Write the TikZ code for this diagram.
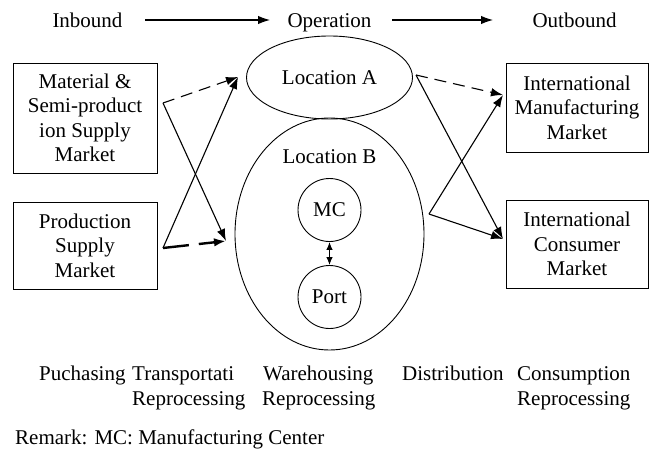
\documentclass[tikz,border=0pt]{standalone}
\usepackage{fontspec}
\setmainfont{Liberation Serif}
\usetikzlibrary{arrows.meta,shapes.geometric}
\begin{document}
\begin{tikzpicture}[x=1pt,y=-1pt,
  font=\fontsize{21}{24.5}\selectfont,
  box/.style={draw,line width=0.9pt,inner sep=0pt,align=center},
  oval/.style={draw,ellipse,line width=0.9pt,inner sep=0pt},
  circ/.style={draw,circle,line width=0.9pt,inner sep=0pt,minimum size=63pt},
  arr/.style={line width=1.1pt,-{Latex[length=12pt,width=8.5pt]}},
  dsh/.style={dash pattern=on 12pt off 7pt},
  tdsh/.style={line width=2.4pt,dash pattern=on 26pt off 10pt},
  lbl/.style={inner sep=0pt,anchor=base west},
  top/.style={inner sep=0pt,anchor=base}]
\useasboundingbox (0,0) rectangle (654,458);

% top row
\node[top] (inb) at (87.5,27) {Inbound};
\node[top] (op) at (329.5,27) {Operation};
\node[top] (outb) at (574.5,27) {Outbound};
\coordinate (t1s) at (145,20); \coordinate (t1e) at (270,20);
\coordinate (t2s) at (392,20); \coordinate (t2e) at (493,20);
\draw[arr] (t1s) -- (t1e);
\draw[arr] (t2s) -- (t2e);

% boxes
\node[box,minimum width=144pt,minimum height=110pt] (mat) at (85,118) {Material \&\\Semi-product\\ion Supply\\Market};
\node[box,minimum width=144pt,minimum height=87pt] (prod) at (85,245.5) {Production\\Supply\\Market};
\node[box,minimum width=142pt,minimum height=89pt] (imm) at (577,107.5) {International\\Manufacturing\\Market};
\node[box,minimum width=142pt,minimum height=88pt] (icm) at (577,244) {International\\Consumer\\Market};

% locations
\node[oval,minimum width=166pt,minimum height=83pt] (locA) at (329.5,77.5) {Location A};
\node[oval,minimum width=189pt,minimum height=232pt] (locB) at (329.5,234) {};
\node[inner sep=0pt] (locBl) at (329.5,157) {Location B};
\node[circ] (mc) at (329.5,210) {MC};
\node[circ] (port) at (329.5,297) {Port};
\draw[line width=1.1pt,{Latex[length=8pt,width=6.5pt]}-{Latex[length=8pt,width=6.5pt]}] (mc.south) -- (port.north);

% left connectors
\coordinate (ms) at (163,103); \coordinate (ps) at (163,248);
\coordinate (ae) at (238,77);  \coordinate (be) at (226,241);
\draw[arr,dsh] (ms) -- (ae);
\draw[arr] (ms) -- (be);
\draw[arr] (ps) -- (ae);
\draw[arr,tdsh] (ps) -- (be);

% right connectors
\coordinate (as) at (416,75); \coordinate (bs) at (429,214);
\coordinate (me) at (503,95); \coordinate (ce) at (503,239);
\draw[arr,dsh] (as) -- (me);
\draw[arr] (as) -- (ce);
\draw[arr] (bs) -- (me);
\draw[arr] (bs) -- (ce);

% bottom labels
\node[lbl] (b1) at (39,380) {Puchasing};
\node[lbl] (b2) at (132,380) {Transportati};
\node[lbl] (b2r) at (132,405) {Reprocessing};
\node[lbl] (b3) at (263,380) {Warehousing};
\node[lbl] (b3r) at (262,405) {Reprocessing};
\node[lbl] (b4) at (402,380) {Distribution};
\node[lbl] (b5) at (517,380) {Consumption};
\node[lbl] (b5r) at (517,405) {Reprocessing};
\node[lbl] (rem) at (15,444) {Remark: MC: Manufacturing Center};
\end{tikzpicture}
\end{document}
